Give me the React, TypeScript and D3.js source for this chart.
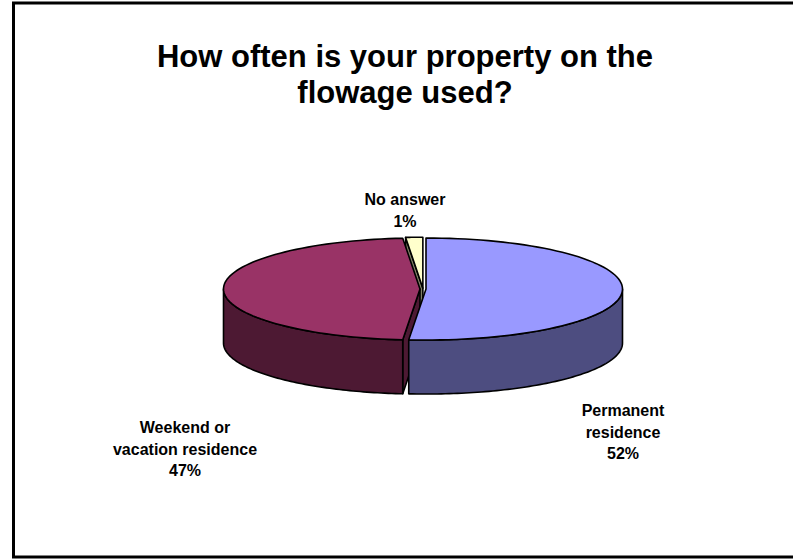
import React from "react";
import * as d3 from "d3";

const categories = ["Permanent residence", "Weekend or vacation residence", "No answer"];
const values = [51.4, 47.2, 1.4];
const shownPercents = [52, 47, 1];
const topColors = ["#9999ff", "#993366", "#ffffcc"];
const sideColors = ["#4d4d80", "#4d1933", "#808066"];
const explode = [3, 3, 3];
const titleLines = ["How often is your property on the", "flowage used?"];
const labelLines = [["Permanent", "residence"], ["Weekend or", "vacation residence"], ["No answer"]];
const labelPos = [[623, 416], [185, 433], [405, 205]];

const W = 793, H = 559;
const cx = 423, cy = 289, rx = 196.5, ry = 51, depth = 54;
const FONT = "'Liberation Sans', Arial, sans-serif";

const rScale = d3.scaleLinear().domain([0, 1]).range([0, 1]);

function pt(a: number, r: number, ox: number, oy: number, dy = 0): [number, number] {
  return [ox + rScale(r) * rx * Math.sin(a), oy - rScale(r) * ry * Math.cos(a) + dy];
}

function arcPath(a0: number, a1: number, ox: number, oy: number, dy = 0) {
  const n = 80;
  const pts: [number, number][] = d3.range(n + 1).map(i => pt(a0 + ((a1 - a0) * i) / n, 1, ox, oy, dy));
  return pts;
}

const line = d3.line();

export default function App() {
  const arcs = d3.pie<number>().sort(null)(values);
  const shapes = arcs.map((d, i) => {
    const mid = (d.startAngle + d.endAngle) / 2;
    const ox = cx + explode[i] * Math.sin(mid);
    const oy = cy - explode[i] * (ry / rx) * Math.cos(mid);
    const rim = arcPath(d.startAngle, d.endAngle, ox, oy);
    const top = line([[ox, oy], ...rim])! + "Z";
    // front wall: part of the rim facing the viewer (90deg to 270deg)
    const fa0 = Math.max(d.startAngle, Math.PI / 2);
    const fa1 = Math.min(d.endAngle, (3 * Math.PI) / 2);
    let wall = "";
    if (fa1 > fa0) {
      const upper = arcPath(fa0, fa1, ox, oy);
      const lower = arcPath(fa0, fa1, ox, oy, depth).reverse();
      wall = line([...upper, ...lower])! + "Z";
    }
    const sp = pt(d.startAngle, 1, ox, oy);
    const sFace = line([[ox, oy], sp, [sp[0], sp[1] + depth], [ox, oy + depth]])! + "Z";
    return { i, top, wall, sFace, start: d.startAngle };
  });
  const order = [2, 1, 0];
  return (
    <svg width={W} height={H} viewBox={`0 0 ${W} ${H}`}
      style={{ position: "absolute", left: 0, top: 0, background: "#fff", display: "block" }}>
      <rect x={13.5} y={3} width={W + 10} height={554} fill="#fff" stroke="#000" strokeWidth={3} />
      <text fontFamily={FONT} fontWeight="bold" fontSize={31} textAnchor="middle" fill="#000">
        {titleLines.map((t, i) => <tspan key={i} x={405} y={67 + i * 36}>{t}</tspan>)}
      </text>
      {order.map(i => {
        const s = shapes[i];
        return (
          <g key={i} stroke="#000" strokeWidth={1.6} strokeLinejoin="round">
            {s.start > Math.PI / 2 && <path d={s.sFace} fill={sideColors[i]} />}
            {s.wall && <path d={s.wall} fill={sideColors[i]} />}
            <path d={s.top} fill={topColors[i]} />
          </g>
        );
      })}
      {categories.map((c, i) => {
        const lines = [...labelLines[i], `${shownPercents[i]}%`];
        return (
          <text key={c} fontFamily={FONT} fontWeight="bold" fontSize={16} textAnchor="middle" fill="#000">
            {lines.map((t, j) => <tspan key={j} x={labelPos[i][0]} y={labelPos[i][1] + j * 21.5}>{t}</tspan>)}
          </text>
        );
      })}
    </svg>
  );
}
